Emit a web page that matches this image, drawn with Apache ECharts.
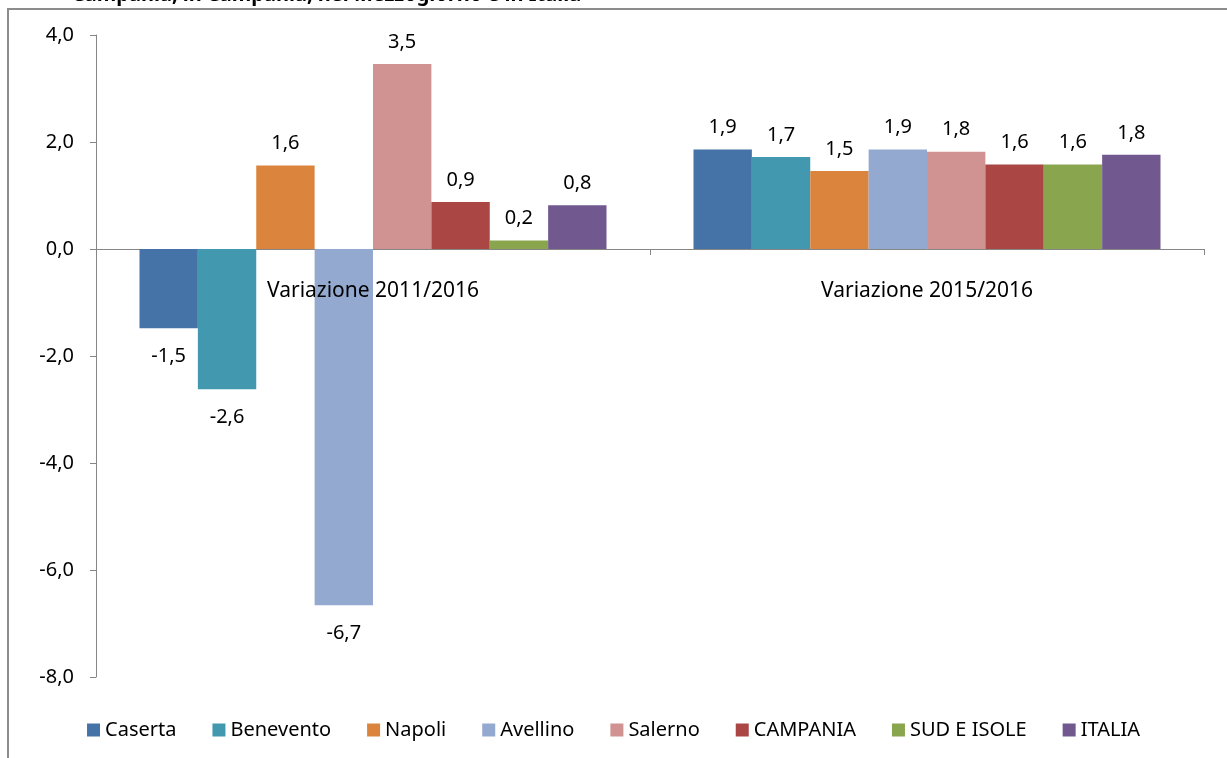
<!DOCTYPE html>
<html>
<head>
<meta charset="utf-8">
<script src="https://cdn.jsdelivr.net/npm/echarts@6/dist/echarts.min.js"></script>
<style>
  html, body { margin: 0; padding: 0; background: #fff; }
  #chart { width: 1227px; height: 758px; }
</style>
</head>
<body>
<div id="chart"></div>
<script>
// categorie asse x
const categories = ['Variazione 2011/2016', 'Variazione 2015/2016'];
// valori
const caserta = [-1.48, 1.86];
const benevento = [-2.62, 1.72];
const napoli = [1.56, 1.46];
const avellino = [-6.66, 1.86];
const salerno = [3.46, 1.82];
const campania = [0.88, 1.58];
const sudIsole = [0.16, 1.58];
const italia = [0.82, 1.76];
const yTicks = [-8, -6, -4, -2, 0, 2, 4];

const seriesDefs = [
  { name: 'Caserta', data: caserta, color: '#4572A7' },
  { name: 'Benevento', data: benevento, color: '#4198AF' },
  { name: 'Napoli', data: napoli, color: '#DB843D' },
  { name: 'Avellino', data: avellino, color: '#93A9CF' },
  { name: 'Salerno', data: salerno, color: '#D19392' },
  { name: 'CAMPANIA', data: campania, color: '#AA4643' },
  { name: 'SUD E ISOLE', data: sudIsole, color: '#89A54E' },
  { name: 'ITALIA', data: italia, color: '#71588F' }
];

const font = 'Noto Sans';
const fmt = (v) => v.toFixed(1).replace('.', ',');

const chart = echarts.init(document.getElementById('chart'));

const series = seriesDefs.map((s) => ({
  type: 'bar',
  name: s.name,
  barGap: '0%',
  barCategoryGap: '15.7%',
  itemStyle: { color: s.color },
  data: s.data.map((v) => ({
    value: v,
    label: {
      show: true,
      position: v < 0 ? 'bottom' : 'top',
      distance: v < 0 ? 18 : 12,
      color: '#000',
      fontFamily: font,
      fontSize: 20,
      formatter: () => fmt(v)
    }
  }))
}));

const option = {
  animation: false,
  color: seriesDefs.map((s) => s.color),
  graphic: [
    {
      type: 'rect',
      shape: { x: 8, y: 9, width: 1400, height: 900 },
      style: { fill: 'none', stroke: '#8c8c8c', lineWidth: 2 },
      z: -1
    },
    {
      type: 'text',
      left: 72,
      top: -15,
      style: {
        text: 'Campania, in Campania, nel Mezzogiorno e in Italia',
        font: 'bold 20px "Noto Sans"',
        fill: '#000'
      }
    }
  ],
  legend: {
    top: 715,
    left: 'center',
    icon: 'rect',
    itemWidth: 13,
    itemHeight: 13,
    itemGap: 36,
    textStyle: { fontFamily: font, fontSize: 20, color: '#000', padding: [0, 0, 0, 0] },
    data: seriesDefs.map((s) => s.name)
  },
  grid: { left: 96, right: 23, top: 35, bottom: 81, containLabel: false },
  xAxis: [
    {
      type: 'category',
      data: categories,
      axisLine: { onZero: true, lineStyle: { color: '#868686', width: 1 } },
      axisTick: { show: true, length: 6, lineStyle: { color: '#868686' } },
      axisLabel: { show: false }
    },
    {
      // solo etichette, appena sotto la linea dello zero, sopra le barre
      type: 'category',
      data: categories,
      position: 'bottom',
      offset: -428,
      z: 10,
      axisLine: { show: false },
      axisTick: { show: false },
      axisLabel: { color: '#000', fontFamily: font, fontSize: 21, margin: 32 }
    }
  ],
  yAxis: {
    type: 'value',
    min: yTicks[0],
    max: yTicks[yTicks.length - 1],
    interval: 2,
    axisLine: { show: true, lineStyle: { color: '#868686', width: 1 } },
    axisTick: { show: true, length: 6, lineStyle: { color: '#868686' } },
    splitLine: { show: false },
    axisLabel: {
      color: '#000',
      fontFamily: font,
      fontSize: 20,
      margin: 22,
      formatter: (v) => fmt(v)
    }
  },
  series: series
};

chart.setOption(option);
</script>
</body>
</html>
